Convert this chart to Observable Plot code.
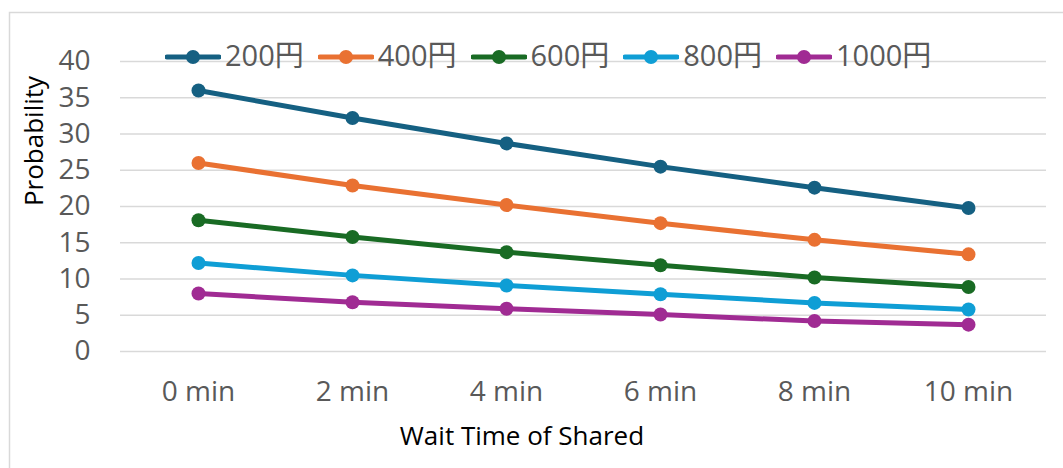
<!DOCTYPE html>
<html>
<head>
<meta charset="utf-8">
<script src="https://cdn.jsdelivr.net/npm/d3@7"></script>
<script src="https://cdn.jsdelivr.net/npm/@observablehq/plot@0.6"></script>
<style>
  body { margin: 0; background: #fff; }
  #wrap { position: relative; width: 1063px; height: 468px; overflow: hidden; font-family: "Open Sans", "Noto Sans CJK JP", sans-serif; }
  #legend { position: absolute; left: 165px; top: 40px; display: flex; align-items: center; }
  .item { display: flex; align-items: center; margin-right: 14px; }
  .item svg { display: block; margin-right: 4px; position: relative; top: 2px; }
  .item span { font-size: 29px; line-height: 1; color: #595959; font-family: "Open Sans", "Noto Sans CJK JP", sans-serif; }
</style>
</head>
<body>
<div id="wrap"><div id="legend"></div></div>
<script>
// ---- data ----
const waitTimes = ["0 min", "2 min", "4 min", "6 min", "8 min", "10 min"];
const seriesNames = ["200円", "400円", "600円", "800円", "1000円"];
const values200 = [36.0, 32.2, 28.7, 25.5, 22.6, 19.8];
const values400 = [26.0, 22.9, 20.2, 17.7, 15.4, 13.4];
const values600 = [18.1, 15.8, 13.7, 11.9, 10.2, 8.9];
const values800 = [12.2, 10.5, 9.1, 7.9, 6.7, 5.8];
const values1000 = [8.0, 6.8, 5.9, 5.1, 4.2, 3.7];
const seriesColors = ["#156082", "#E97132", "#196B24", "#0F9ED5", "#A02B93"];
const yTicks = [0, 5, 10, 15, 20, 25, 30, 35, 40];
const xTitle = "Wait Time of Shared";
const yTitle = "Probability";

const seriesValues = [values200, values400, values600, values800, values1000];
const data = seriesNames.flatMap((s, i) =>
  seriesValues[i].map((v, j) => ({ series: s, wait: waitTimes[j], value: v }))
);

const chart = Plot.plot({
  width: 1063,
  height: 468,
  marginLeft: 120,
  marginRight: 17,
  marginTop: 61,
  marginBottom: 117,
  style: { fontFamily: "'Open Sans', sans-serif", fontSize: "28px", color: "#595959", background: "transparent", overflow: "visible" },
  x: { type: "point", domain: waitTimes, padding: 0.5, label: null },
  y: { domain: [0, 40], ticks: yTicks, label: null },
  color: { domain: seriesNames, range: seriesColors },
  marks: [
    Plot.gridY(yTicks, { stroke: "#d9d9d9", strokeOpacity: 1, strokeWidth: 1.5 }),
    Plot.axisY(yTicks, { tickSize: 0, tickPadding: 30, fontSize: 28, label: null }),
    Plot.axisX({ tickSize: 0, tickPadding: 30, fontSize: 28, label: null }),
    Plot.line(data, { x: "wait", y: "value", z: "series", stroke: "series", strokeWidth: 5 }),
    Plot.dot(data, { x: "wait", y: "value", fill: "series", r: 7 })
  ]
});

const svg = d3.select(chart);
svg.insert("rect", ":first-child")
  .attr("x", 9.5).attr("y", 12.5).attr("width", 1100).attr("height", 500)
  .attr("fill", "#fff").attr("stroke", "#d9d9d9").attr("stroke-width", 1.5);
svg.append("text")
  .attr("transform", "translate(43,141) rotate(-90)")
  .attr("text-anchor", "middle").attr("font-size", 26).attr("fill", "#000")
  .text(yTitle);
svg.append("text")
  .attr("x", 522).attr("y", 445)
  .attr("text-anchor", "middle").attr("font-size", 26).attr("fill", "#000")
  .text(xTitle);

const wrap = document.getElementById("wrap");
wrap.insertBefore(chart, wrap.firstChild);

// legend
const legend = d3.select("#legend");
seriesNames.forEach((name, i) => {
  const item = legend.append("div").attr("class", "item");
  const sw = item.append("svg").attr("width", 56).attr("height", 16);
  sw.append("line").attr("x1", 2).attr("x2", 54).attr("y1", 8).attr("y2", 8)
    .attr("stroke", seriesColors[i]).attr("stroke-width", 5).attr("stroke-linecap", "round");
  sw.append("circle").attr("cx", 28).attr("cy", 8).attr("r", 7).attr("fill", seriesColors[i]);
  item.append("span").text(name);
});
</script>
</body>
</html>
